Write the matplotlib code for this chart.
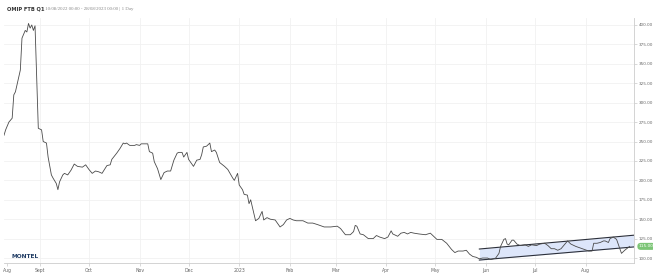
import matplotlib
matplotlib.use("Agg")
import matplotlib.pyplot as plt
import pandas as pd

dates = ["2022-08-10","2022-08-11","2022-08-13","2022-08-15","2022-08-16","2022-08-17","2022-08-19","2022-08-20",
"2022-08-21","2022-08-23","2022-08-24","2022-08-25","2022-08-26","2022-08-27","2022-08-28","2022-08-29","2022-08-30",
"2022-08-31","2022-09-02","2022-09-03","2022-09-05","2022-09-06","2022-09-08","2022-09-09","2022-09-11","2022-09-12",
"2022-09-13","2022-09-15","2022-09-16","2022-09-18","2022-09-20","2022-09-22","2022-09-24","2022-09-27","2022-09-29",
"2022-10-01","2022-10-03","2022-10-05","2022-10-07","2022-10-09","2022-10-12","2022-10-14","2022-10-15","2022-10-18",
"2022-10-20","2022-10-22","2022-10-23","2022-10-24","2022-10-26","2022-10-29","2022-10-30","2022-11-01","2022-11-02",
"2022-11-06","2022-11-07","2022-11-09","2022-11-10","2022-11-12","2022-11-14","2022-11-16","2022-11-18","2022-11-20",
"2022-11-22","2022-11-24","2022-11-25","2022-11-27","2022-11-28","2022-11-30","2022-12-01","2022-12-04","2022-12-06",
"2022-12-08","2022-12-09","2022-12-10","2022-12-12","2022-12-14","2022-12-15","2022-12-17","2022-12-18","2022-12-20",
"2022-12-23","2022-12-25","2022-12-28","2022-12-29","2022-12-31","2023-01-01","2023-01-03","2023-01-04","2023-01-06",
"2023-01-07","2023-01-08","2023-01-09","2023-01-11","2023-01-13","2023-01-15","2023-01-16","2023-01-18","2023-01-20",
"2023-01-23","2023-01-26","2023-01-28","2023-01-30","2023-02-01","2023-02-03","2023-02-05","2023-02-09","2023-02-12",
"2023-02-15","2023-02-18","2023-02-22","2023-02-26","2023-03-02","2023-03-04","2023-03-07","2023-03-10","2023-03-12",
"2023-03-13","2023-03-14","2023-03-16","2023-03-18","2023-03-21","2023-03-24","2023-03-26","2023-03-28","2023-03-31",
"2023-04-02","2023-04-04","2023-04-05","2023-04-08","2023-04-10","2023-04-12","2023-04-14","2023-04-16","2023-04-18",
"2023-04-21","2023-04-25","2023-04-28","2023-04-29","2023-05-02","2023-05-05","2023-05-08","2023-05-11","2023-05-13",
"2023-05-15","2023-05-18","2023-05-20","2023-05-22","2023-05-24","2023-05-26","2023-05-28","2023-05-30","2023-06-02",
"2023-06-04","2023-06-07","2023-06-09","2023-06-10","2023-06-12","2023-06-13","2023-06-14","2023-06-15","2023-06-17",
"2023-06-18","2023-06-20","2023-06-22","2023-06-25","2023-06-27","2023-06-29","2023-07-02","2023-07-04","2023-07-07",
"2023-07-09","2023-07-11","2023-07-13","2023-07-15","2023-07-17","2023-07-19","2023-07-21","2023-07-23","2023-07-26",
"2023-07-30","2023-08-03","2023-08-05","2023-08-06","2023-08-08","2023-08-10","2023-08-12","2023-08-13","2023-08-15",
"2023-08-16","2023-08-18","2023-08-20","2023-08-22","2023-08-23","2023-08-25","2023-08-28"]

prices = [258,265,275,280,310,314,333,342,
383,393,391,402,396,400,393,399,333,
267,265,250,248,230,207,203,196,188,
198,207,209,207,213,221,218,217,220,
214,209,212,211,209,219,220,227,235,
241,248,247,248,245,245,246,245,247,
247,237,235,224,215,201,210,212,212,
226,235,236,236,230,236,227,218,226,
227,233,243,244,248,237,239,236,223,
218,214,203,200,209,194,188,182,181,
170,175,166,148,151,160,149,152,150,
149,140,143,149,151,149,148,148,145,
145,143,140,140,141,138,130,130,134,
142,141,131,130,125,125,129,127,125,
127,135,131,128,132,133,131,133,132,
131,130,132,130,124,124,119,111,107,
109,109,110,105,102,101,99,100,100,
98,100,106,115,124,125,118,117,123,
123,118,116,117,115,117,116,118,119,
116,112,112,110,112,117,122,118,115,
112,109,109,119,119,120,122,122,120,
125,127,124,112,106,110,115]

channel_dates = ["2023-05-28 00:00", "2023-08-30 16:00"]
channel_upper = [111.6, 129.4]
channel_lower = [97.4, 114.3]

month_ticks = ["2022-08-12","2022-09-01","2022-10-01","2022-11-01","2022-12-01","2023-01-01",
               "2023-02-01","2023-03-01","2023-04-01","2023-05-01","2023-06-01","2023-07-01","2023-08-01"]
month_labels = ["Aug","Sept","Oct","Nov","Dec","2023","Feb","Mar","Apr","May","Jun","Jul","Aug"]
y_ticks = [100,125,150,175,200,225,250,275,300,325,350,375,400]

last_value = prices[-1]

x = pd.to_datetime(dates)
cx = pd.to_datetime(channel_dates, format="%Y-%m-%d %H:%M")

fig = plt.figure(figsize=(6.53, 2.74), dpi=100)
ax = fig.add_axes([4/653, 1-263/274, 630/653, (263-18)/274])

ax.fill_between(cx, channel_lower, channel_upper, color="#dde6fa", zorder=1, linewidth=0)
ax.plot(cx, channel_upper, color="#2b2f3a", lw=0.8, zorder=2)
ax.plot(cx, channel_lower, color="#2b2f3a", lw=0.8, zorder=2)
ax.plot(x, prices, color="#4a4a4a", lw=0.6, zorder=3)

ax.set_xlim(pd.Timestamp("2022-08-10"), pd.Timestamp("2023-08-30 16:00"))
ax.set_ylim(93.6, 409)

grid_months = pd.to_datetime(month_ticks[1:])
for gm in grid_months:
    ax.axvline(gm, color="#f1f1f1", lw=0.6, zorder=0)
for yt in y_ticks:
    ax.axhline(yt, color="#f1f1f1", lw=0.6, zorder=0)

ax.set_xticks(pd.to_datetime(month_ticks))
ax.set_xticklabels(month_labels, fontsize=3.3, color="#666666")
ax.yaxis.tick_right()
ax.set_yticks(y_ticks)
ax.set_yticklabels([f"{v:.2f}" for v in y_ticks], fontsize=3.0, color="#666666")
ax.tick_params(axis="x", length=2, width=0.4, color="#bbbbbb", pad=1.5)
ax.tick_params(axis="y", length=2, width=0.4, color="#bbbbbb", pad=1.5)

for s in ["top", "left"]:
    ax.spines[s].set_visible(False)
ax.spines["right"].set_color("#cccccc")
ax.spines["right"].set_linewidth(0.6)
ax.spines["bottom"].set_color("#cccccc")
ax.spines["bottom"].set_linewidth(0.6)

ax.annotate(f"{last_value:.2f}", xy=(1.0, last_value), xycoords=("axes fraction", "data"),
            xytext=(3.5, 0), textcoords="offset points", fontsize=3.1, color="white",
            va="center", ha="left",
            bbox=dict(boxstyle="round,pad=0.35,rounding_size=0.8", fc="#7cc576", ec="none"))

fig.text(7/653, 1-9/274, "OMIP FTB Q1", fontsize=3.7, fontweight="bold", color="#333333", va="center")
fig.text(43/653, 1-9/274, "| 10/08/2022 00:00 - 28/08/2023 00:00 | 1 Day", fontsize=3.5,
         color="#888888", va="center", family="Liberation Serif")
fig.text(11/653, 1-257/274, "MONTEL", fontsize=4.2, fontweight="bold", color="#1f3b63", va="center")

fig.savefig("out.png", dpi=100)
